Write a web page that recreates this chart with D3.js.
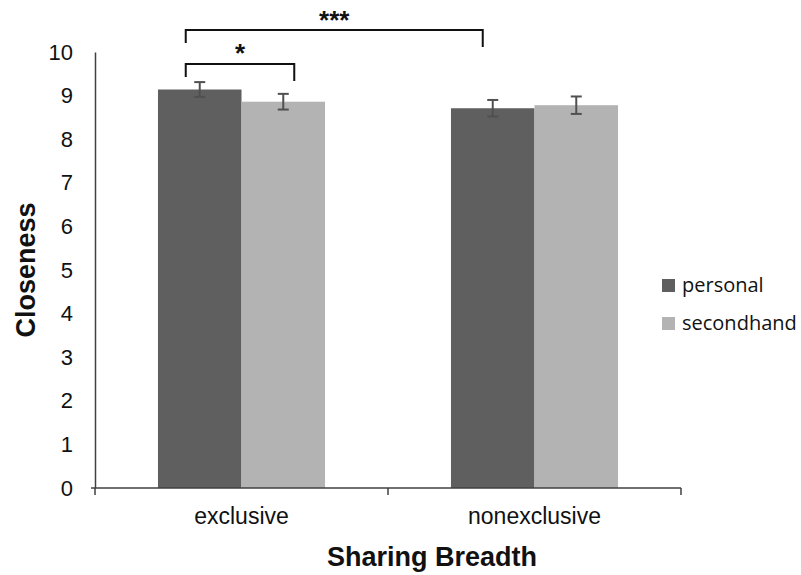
<!DOCTYPE html>
<html><head><meta charset="utf-8">
<script src="https://cdn.jsdelivr.net/npm/d3@7"></script>
<style>body{margin:0;background:#fff}svg{display:block}</style>
</head><body>
<svg id="c" width="801" height="575"></svg>
<script>
const categories = ["exclusive", "nonexclusive"];
const seriesNames = ["personal", "secondhand"];
const personal = [9.14, 8.71];
const secondhand = [8.86, 8.78];
const personalErr = [0.17, 0.19];
const secondhandErr = [0.18, 0.2];
const yTicks = [0,1,2,3,4,5,6,7,8,9,10];
const colors = ["#5f5f5f", "#b3b3b3"];

(function(){
const svg = d3.select("#c");
const mLeft = 95, mRight = 681, mTop = 52, mBottom = 488;
const x = d3.scaleBand().domain(categories).range([mLeft, mRight]).paddingInner(0).paddingOuter(0);
const xs = d3.scaleBand().domain(seriesNames).range([0, x.bandwidth()]).paddingOuter(0.754).paddingInner(0);
const y = d3.scaleLinear().domain([0, 10]).range([mBottom, mTop]);

const data = categories.map((c, i) => ({cat: c, vals: [
  {s: "personal", v: personal[i], e: personalErr[i]},
  {s: "secondhand", v: secondhand[i], e: secondhandErr[i]}]}));

// bars
const g = svg.append("g");
const groups = g.selectAll("g.cat").data(data).join("g").attr("class", "cat").attr("transform", d => `translate(${x(d.cat)},0)`);
groups.selectAll("rect").data(d => d.vals).join("rect")
  .attr("x", d => xs(d.s)).attr("width", xs.bandwidth())
  .attr("y", d => y(d.v)).attr("height", d => y(0) - y(d.v))
  .attr("fill", (d, i) => colors[i]);
// error bars
const eb = groups.selectAll("g.err").data(d => d.vals).join("g").attr("class", "err").attr("stroke", "#505050").attr("stroke-width", 2);
const cx = d => xs(d.s) + xs.bandwidth()/2;
eb.append("line").attr("x1", cx).attr("x2", cx)
  .attr("y1", d => y(d.v + d.e)).attr("y2", d => y(d.v - d.e));
eb.append("line").attr("x1", d => cx(d) - 5.5).attr("x2", d => cx(d) + 5.5)
  .attr("y1", d => y(d.v + d.e)).attr("y2", d => y(d.v + d.e));
eb.append("line").attr("x1", d => cx(d) - 5.5).attr("x2", d => cx(d) + 5.5)
  .attr("y1", d => y(d.v - d.e)).attr("y2", d => y(d.v - d.e));

// y axis
const yAxis = d3.axisLeft(y).tickValues(yTicks).tickSize(0).tickPadding(22);
const ya = svg.append("g").attr("transform", `translate(${mLeft},0)`).call(yAxis);
ya.select(".domain").attr("stroke", "#404040").attr("stroke-width", 1.5);
ya.selectAll("text").attr("font-family", "Liberation Sans, Arial, sans-serif").attr("font-size", 22).attr("fill", "#111");

// x axis
const xa = svg.append("g").attr("transform", `translate(0,${mBottom})`);
xa.append("line").attr("x1", mLeft - 4).attr("x2", mRight).attr("stroke", "#404040").attr("stroke-width", 1.5);
const tickPos = [mLeft, ...categories.slice(1).map(c => x(c)), mRight];
xa.selectAll("line.t").data(tickPos).join("line").attr("class", "t")
  .attr("x1", d => d).attr("x2", d => d).attr("y1", 0).attr("y2", 7).attr("stroke", "#404040").attr("stroke-width", 1.5);
xa.selectAll("text").data(categories).join("text")
  .attr("x", d => x(d) + x.bandwidth()/2).attr("y", 36).attr("text-anchor", "middle")
  .attr("font-family", "Liberation Sans, Arial, sans-serif").attr("font-size", 23).attr("fill", "#111").text(d => d);

// axis titles
svg.append("text").attr("transform", "translate(35,270) rotate(-90)").attr("text-anchor", "middle")
  .attr("font-family", "Liberation Sans, Arial, sans-serif").attr("font-weight", "bold").attr("font-size", 27).attr("fill", "#111").text("Closeness");
svg.append("text").attr("x", 432).attr("y", 566).attr("text-anchor", "middle")
  .attr("font-family", "Liberation Sans, Arial, sans-serif").attr("font-weight", "bold").attr("font-size", 27).attr("fill", "#111").text("Sharing Breadth");

// legend
const lg = svg.append("g").attr("transform", "translate(662,0)");
seriesNames.forEach((s, i) => {
  const yy = 286 + i * 38;
  lg.append("rect").attr("x", 0).attr("y", yy - 7).attr("width", 13).attr("height", 13).attr("fill", colors[i]);
  lg.append("text").attr("x", 20).attr("y", yy + 6).attr("font-family", "Open Sans, sans-serif").attr("font-size", 20).attr("fill", "#111").text(s);
});

// significance brackets
const pcx = x("exclusive") + xs("personal") + xs.bandwidth()/2;
const brackets = [
  {x1: pcx - 14, x2: x("exclusive") + xs("secondhand") + xs.bandwidth()/2 + 11, yTop: 64, d1: 13, d2: 17, label: "*", ly: 62},
  {x1: pcx - 14, x2: x("nonexclusive") + xs("personal") + xs.bandwidth()/2 - 10, yTop: 30, d1: 13, d2: 17, label: "***", ly: 29}
];
brackets.forEach(b => {
  svg.append("path").attr("d", `M${b.x1},${b.yTop + b.d1}V${b.yTop}H${b.x2}V${b.yTop + b.d2}`)
    .attr("fill", "none").attr("stroke", "#111").attr("stroke-width", 2);
  svg.append("text").attr("x", (b.x1 + b.x2)/2).attr("y", b.ly).attr("text-anchor", "middle")
    .attr("font-family", "Liberation Sans, Arial, sans-serif").attr("font-weight", "bold").attr("font-size", 26).attr("fill", "#111").text(b.label);
});
})();
</script>
</body></html>
